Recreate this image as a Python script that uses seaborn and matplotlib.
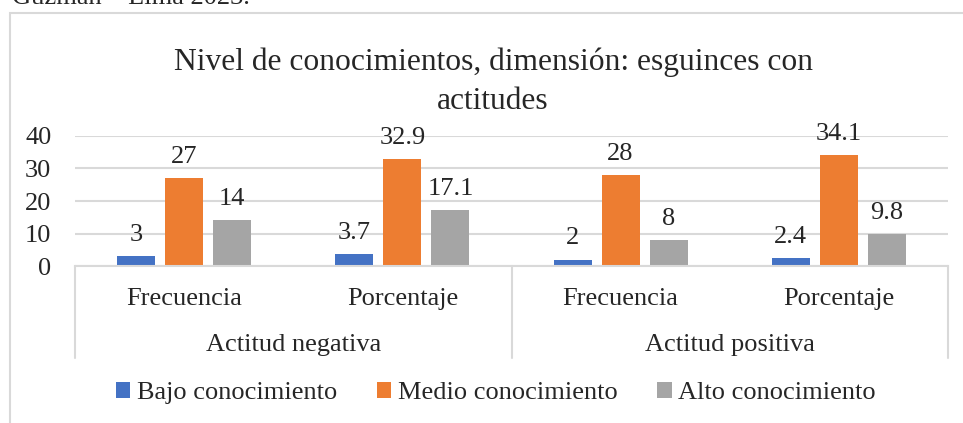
import matplotlib
matplotlib.use("Agg")
import matplotlib.pyplot as plt
import matplotlib.transforms as mtransforms
from matplotlib.patches import Rectangle, Patch
from matplotlib.font_manager import FontProperties
import seaborn as sns
import pandas as pd

# ---- data ----
groups = ["Actitud negativa", "Actitud positiva"]
subcats = ["Frecuencia", "Porcentaje", "Frecuencia", "Porcentaje"]
series = ["Bajo conocimiento", "Medio conocimiento", "Alto conocimiento"]
bajo = [3, 3.7, 2, 2.4]
medio = [27, 32.9, 28, 34.1]
alto = [14, 17.1, 8, 9.8]
value_labels = {
    "Bajo conocimiento": ["3", "3.7", "2", "2.4"],
    "Medio conocimiento": ["27", "32.9", "28", "34.1"],
    "Alto conocimiento": ["14", "17.1", "8", "9.8"],
}
colors = ["#4472C4", "#ED7D31", "#A5A5A5"]
title = "Nivel de conocimientos, dimensión: esguinces con\nactitudes"
yticks = [0, 10, 20, 30, 40]

keys = [f"c{i}" for i in range(len(subcats))]
rows = []
for s, vals in zip(series, [bajo, medio, alto]):
    for k, v in zip(keys, vals):
        rows.append({"cat": k, "serie": s, "valor": v})
df = pd.DataFrame(rows)

sns.set_theme(style="white")
SERIF = ["Liberation Serif", "DejaVu Serif"]
plt.rcParams["font.family"] = SERIF
FS = 19

W, H = 963, 423
fig = plt.figure(figsize=(W / 100, H / 100), dpi=100)
ax_l, ax_r, ax_t, ax_b = 75, 948, 136, 266
ax = fig.add_axes([ax_l / W, 1 - ax_b / H, (ax_r - ax_l) / W, (ax_b - ax_t) / H])

sns.barplot(data=df, x="cat", y="valor", hue="serie", order=keys,
            hue_order=series, palette=colors, width=0.66, gap=0.21,
            saturation=1, ax=ax, legend=False, edgecolor="none")

ax.set_xlim(-0.5, len(keys) - 0.5)
ax.set_ylim(0, 40)
ax.set_yticks(yticks)
ax.set_yticklabels([str(t) for t in yticks], fontsize=FS, family=SERIF)
ax.tick_params(axis="y", length=0, pad=17)
ax.set_xticks([])
ax.set_xlabel("")
ax.set_ylabel("")
ax.grid(axis="y", color="#D9D9D9", linewidth=1.5)
ax.set_axisbelow(True)
for sp in ["left", "right", "top"]:
    ax.spines[sp].set_visible(False)
ax.spines["bottom"].set_color("#D9D9D9")
ax.spines["bottom"].set_linewidth(1.5)

# data labels
for cont, s in zip(ax.containers, series):
    ax.bar_label(cont, labels=value_labels[s], fontsize=FS, padding=7.5, family=SERIF)

# multi-level category axis
trans = mtransforms.blended_transform_factory(ax.transData, ax.transAxes)
axh = ax_b - ax_t
def ay(ypix):
    return (ax_b - ypix) / axh
for i, lab in enumerate(subcats):
    ax.text(i, ay(299), lab, transform=trans, ha="center", va="center",
            fontsize=FS, family=SERIF)
for g, lab in enumerate(groups):
    ax.text(2 * g + 0.5, ay(345), lab, transform=trans, ha="center", va="center",
            fontsize=FS, family=SERIF)
for xv in [-0.5, 1.5, 3.5]:
    ax.plot([xv, xv], [0, ay(358)], transform=trans, color="#D9D9D9",
            linewidth=1.5, clip_on=False)

# title
fig.text(493 / W, 1 - 82 / H, title, ha="center", va="center", fontsize=22.7,
         linespacing=1.45, family=SERIF)

# legend
handles = [Patch(facecolor=c, edgecolor="none", label=s) for c, s in zip(colors, series)]
leg = fig.legend(handles=handles, loc="center", bbox_to_anchor=(496 / W, 1 - 393 / H),
                 ncol=3, frameon=False,
                 prop=FontProperties(family="Liberation Serif", size=FS),
                 handlelength=0.55, handleheight=0.55, handletextpad=0.25,
                 columnspacing=1.5)

# chart border
fig.patches.append(Rectangle((10 / W, -0.2), 1.2, 1 - 13 / H + 0.2,
                             transform=fig.transFigure, fill=False,
                             edgecolor="#D9D9D9", linewidth=1.5))

# cut-off caption text above chart (partially outside, as in the reference)
fig.text(250 / W, 1 - 4 / H, "Guzmán – Lima 2023.", ha="right", va="baseline",
         fontsize=FS, family=SERIF)

fig.savefig("out.png", dpi=100)
